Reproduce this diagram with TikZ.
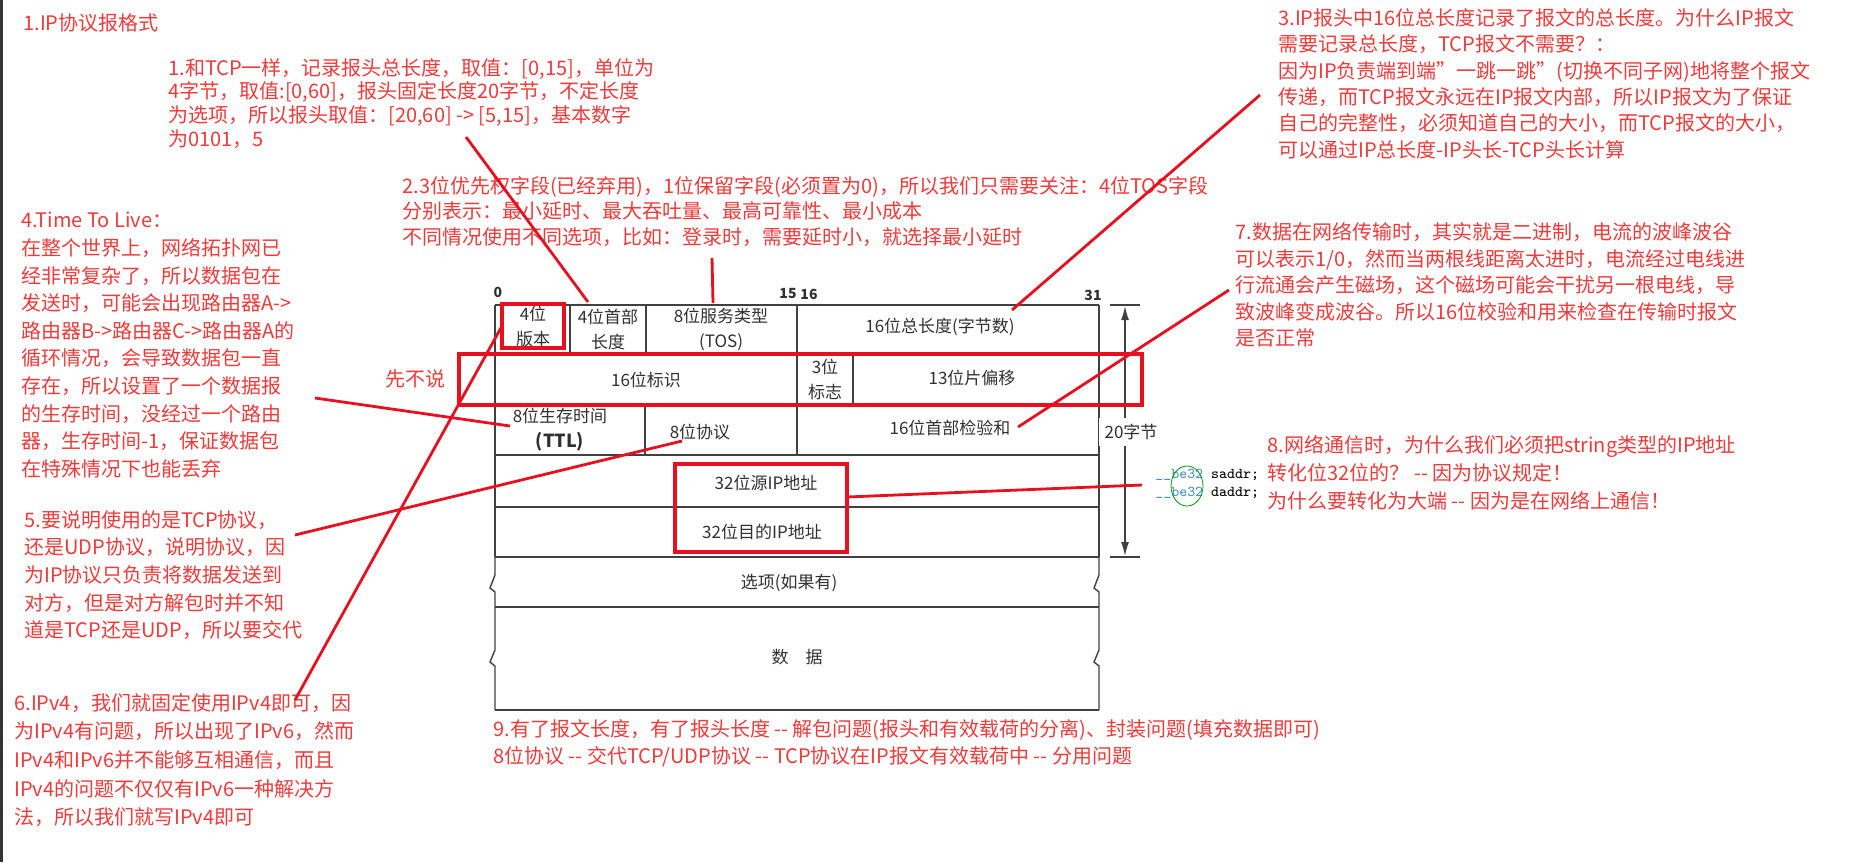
\documentclass[tikz,border=0pt]{standalone}
\usepackage{fontspec}
\setmainfont{Noto Sans CJK SC}
\usepackage{xcolor}
\usetikzlibrary{arrows.meta}
\definecolor{notered}{HTML}{F03A3A}
\definecolor{linered}{HTML}{E8101E}
\definecolor{cellgray}{HTML}{303030}
\definecolor{codeblue}{HTML}{4A90C0}

\begin{document}
\begin{tikzpicture}[x=0.5pt,y=-0.5pt,
    note/.style={anchor=north west,inner sep=0pt,align=left,text=notered,
        font=\fontsize{10pt}{#1}\selectfont},
    note/.default=13.8pt,
    cell/.style={inner sep=0pt,align=center,text=cellgray,
        font=\fontsize{8.5pt}{12.5pt}\selectfont},
    lead/.style={draw=linered,line width=1.4pt},
    hl/.style={draw=linered,line width=1.6pt},
    frame/.style={draw=black!75,line width=0.7pt}]
    \useasboundingbox (0,0) rectangle (1871,862);
    \fill[black!80] (0,0) rectangle (3,862);
    % notes
    \node[note] (title) at (23,13) {1.IP协议报格式};
    \node[note=11.8pt] (hdrlen) at (168,58) {1.和TCP一样，记录报头总长度，取值：[0,15]，单位为\\4字节，取值:[0,60]，报头固定长度20字节，不定长度\\为选项，所以报头取值：[20,60] -> [5,15]，基本数字\\为0101，5};
    \node[note=12.8pt] (tos) at (402,176) {2.3位优先权字段(已经弃用)，1位保留字段(必须置为0)，所以我们只需要关注：4位TOS字段\\分别表示：最小延时、最大吞吐量、最高可靠性、最小成本\\不同情况使用不同选项，比如：登录时，需要延时小，就选择最小延时};
    \node[note=13.2pt] (total) at (1278,8) {3.IP报头中16位总长度记录了报文的总长度。为什么IP报文\\需要记录总长度，TCP报文不需要？：\\因为IP负责端到端"一跳一跳"(切换不同子网)地将整个报文\\传递，而TCP报文永远在IP报文内部，所以IP报文为了保证\\自己的完整性，必须知道自己的大小，而TCP报文的大小，\\可以通过IP总长度-IP头长-TCP头长计算};
    \node[note] (ttl) at (21,212) {4.Time To Live：\\在整个世界上，网络拓扑网已\\经非常复杂了，所以数据包在\\发送时，可能会出现路由器A->\\路由器B->路由器C->路由器A的\\循环情况，会导致数据包一直\\存在，所以设置了一个数据报\\的生存时间，没经过一个路由\\器，生存时间-1，保证数据包\\在特殊情况下也能丢弃};
    \node[note] (proto) at (24,510) {5.要说明使用的是TCP协议，\\还是UDP协议，说明协议，因\\为IP协议只负责将数据发送到\\对方，但是对方解包时并不知\\道是TCP还是UDP，所以要交代};
    \node[note=14.3pt] (ver) at (14,693) {6.IPv4，我们就固定使用IPv4即可，因\\为IPv4有问题，所以出现了IPv6，然而\\IPv4和IPv6并不能够互相通信，而且\\IPv4的问题不仅仅有IPv6一种解决方\\法，所以我们就写IPv4即可};
    \node[note=13.3pt] (csum) at (1235,222) {7.数据在网络传输时，其实就是二进制，电流的波峰波谷\\可以表示1/0，然而当两根线距离太进时，电流经过电线进\\行流通会产生磁场，这个磁场可能会干扰另一根电线，导\\致波峰变成波谷。所以16位校验和用来检查在传输时报文\\是否正常};
    \node[note=14pt] (addr) at (1267,435) {8.网络通信时，为什么我们必须把string类型的IP地址\\转化位32位的？ {-}{-} 因为协议规定！\\为什么要转化为大端 {-}{-} 因为是在网络上通信！};
    \node[note] (sum) at (493,719) {9.有了报文长度，有了报头长度 {-}{-} 解包问题(报头和有效载荷的分离)、封装问题(填充数据即可)\\8位协议 {-}{-} 交代TCP/UDP协议 {-}{-} TCP协议在IP报文有效载荷中 {-}{-} 分用问题};
    \node[note,anchor=west] (skip) at (385,379) {先不说};
    % header table
    \foreach \y in {305,353,405,455,507,557,607,710}
        \draw[frame] (495,\y) -- (1099,\y);
    \draw[frame] (495,305) -- (495,557) (1099,305) -- (1099,557);
    \foreach \x in {0,604} {
        \draw[frame,xshift=\x*0.5pt] (495,557) -- (495,575) -- (490,588) -- (495,592) -- (495,650)
            -- (490,662) -- (495,666) -- (495,710);
    }
    \draw[frame] (570,305) -- (570,353) (646,305) -- (646,353) (797,305) -- (797,455)
        (853,353) -- (853,405) (645,405) -- (645,455);
    \node[cell] at (498,292) {\bfseries\scriptsize 0};
    \node[cell] at (788,294) {\bfseries\scriptsize 15};
    \node[cell] at (809,294) {\bfseries\scriptsize 16};
    \node[cell] at (1093,295) {\bfseries\scriptsize 31};
    \node[cell] (vers) at (533,327) {4位\\版本};
    \node[cell] at (608,329) {4位首部\\长度};
    \node[cell] (tosc) at (721,329) {8位服务类型\\(TOS)};
    \node[cell] (totc) at (940,327) {16位总长度(字节数)};
    \node[cell] at (646,380) {16位标识};
    \node[cell] at (825,379) {3位\\标志};
    \node[cell] at (972,378) {13位片偏移};
    \node[cell] (ttlc) at (560,430) {8位生存时间\\{\bfseries\small(TTL)}};
    \node[cell] (protc) at (700,432) {8位协议};
    \node[cell] (csumc) at (950,428) {16位首部检验和};
    \node[cell] at (766,483) {32位源IP地址};
    \node[cell] at (762,532) {32位目的IP地址};
    \node[cell] at (789,583) {选项(如果有)};
    \node[cell] at (797,657) {数\quad 据};
    % 20 bytes
    \draw[frame] (1110,305) -- (1140,305) (1110,557) -- (1140,557);
    \draw[frame,{Latex[length=7pt,width=4pt]}-{Latex[length=7pt,width=4pt]}] (1125,306) -- (1125,556);
    \node[cell,fill=white,inner sep=3pt] at (1131,432) {20字节};
    % code snippet
    \node[anchor=west,inner sep=0pt,font=\ttfamily\fontsize{7.5pt}{9pt}\selectfont] (code) at (1155,475)
        {\textcolor{codeblue}{\_\_be32}\ saddr;};
    \node[anchor=west,inner sep=0pt,font=\ttfamily\fontsize{7.5pt}{9pt}\selectfont] at (1155,493)
        {\textcolor{codeblue}{\_\_be32}\ daddr;};
    \draw[green!60!black,thin] (1187,486) ellipse (16 and 20);
    % highlight boxes
    \draw[hl] (502,304) rectangle (564,348);
    \draw[hl] (459,354) rectangle (1142,405);
    \draw[hl] (675,464) rectangle (847,552);
    % leader lines
    \coordinate (hdrlenend) at (588,302);
    \coordinate (tosend) at (713,303);
    \coordinate (totend) at (1012,310);
    \coordinate (csumend) at (1018,427);
    \coordinate (ttlend) at (510,426);
    \coordinate (protend) at (682,441);
    \coordinate (verend) at (502,326);
    \coordinate (addrend) at (847,497);
    \draw[lead] (466,137) -- (hdrlenend);
    \draw[lead] (712,258) -- (tosend);
    \draw[lead] (1260,95) -- (totend);
    \draw[lead] (1229,290) -- (csumend);
    \draw[lead] (315,398) -- (ttlend);
    \draw[lead] (295,535) -- (protend);
    \draw[lead] (295,700) -- (verend);
    \draw[lead] (addrend) -- (1142,485);
\end{tikzpicture}
\end{document}
